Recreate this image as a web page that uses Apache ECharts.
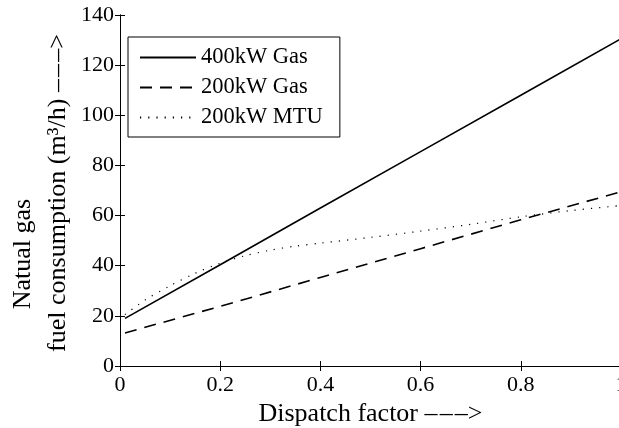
<!DOCTYPE html>
<html>
<head>
<meta charset="utf-8">
<script src="https://cdn.jsdelivr.net/npm/echarts@6/dist/echarts.min.js"></script>
<style>
  html, body { margin: 0; padding: 0; background: #fff; }
  #chart { width: 619px; height: 428px; }
</style>
</head>
<body>
<div id="chart"></div>
<script>
// values
const seriesNames = ['400kW Gas', '200kW Gas', '200kW MTU']
const xGas400 = [0.01, 0.2, 0.4, 0.6, 0.8, 1.0]
const yGas400 = [19, 40.4, 63, 85.5, 108, 130.5]
const xGas200 = [0.01, 0.2, 0.4, 0.6, 0.8, 1.0]
const yGas200 = [13.2, 23.8, 35.3, 46.8, 58.3, 69.5]
const xMtu200 = [0.01, 0.05, 0.1, 0.15, 0.2, 0.25, 0.3, 0.35, 0.4, 0.5, 0.6, 0.7, 0.8, 0.9, 1.0]
const yMtu200 = [20.5, 26.3, 32, 37, 41, 44, 46.2, 47.8, 49, 51.3, 53.8, 56.5, 59.5, 62, 64]
const xTicks = [0, 0.2, 0.4, 0.6, 0.8, 1]
const yTicks = [0, 20, 40, 60, 80, 100, 120, 140]
const xTitle = 'Dispatch factor –\u200a–\u200a–>'
const yTitle = ['Natual gas', 'fuel consumption (m³/h) –\u200a–\u200a–>']

const font = 'Liberation Serif'
const pairs = (xs, ys) => xs.map((x, i) => [x, ys[i]])

let myChart = echarts.init(document.getElementById('chart'), null, { renderer: 'canvas' })

const axisBase = {
  type: 'value',
  axisLine: { show: true, lineStyle: { color: '#000', width: 1 } },
  axisTick: { show: true, inside: true, length: 5, lineStyle: { color: '#000' } },
  splitLine: { show: false }
}

var option = {
  backgroundColor: '#fff',
  animation: false,
  color: ['#000', '#000', '#000'],
  grid: { left: 120, top: 15, right: -2, bottom: 62, outerBoundsMode: 'none' },
  legend: {
    data: seriesNames,
    orient: 'vertical',
    left: 128,
    top: 37,
    padding: [9, 17, 8, 11],
    itemWidth: 56,
    itemHeight: 14,
    itemGap: 7,
    borderColor: '#000',
    borderWidth: 1,
    backgroundColor: '#fff',
    itemStyle: { color: 'transparent', borderColor: 'transparent', borderWidth: 0 },
    textStyle: { fontFamily: font, fontSize: 22.5, color: '#000' }
  },
  // two-line y title, lines placed separately as in the picture
  graphic: [{
    type: 'text',
    x: 23, y: 254, rotation: Math.PI / 2,
    style: { text: yTitle[0], font: '26px "Liberation Serif"', fill: '#000', align: 'center', verticalAlign: 'middle' }
  }, {
    type: 'text',
    x: 58, y: 193, rotation: Math.PI / 2,
    style: { text: yTitle[1], font: '26px "Liberation Serif"', fill: '#000', align: 'center', verticalAlign: 'middle' }
  }],
  xAxis: [
    Object.assign({}, axisBase, {
      position: 'bottom',
      min: 0, max: 1, interval: 0.2,
      axisLabel: {
        margin: 8, color: '#000', fontFamily: font, fontSize: 22,
        formatter: v => xTicks.includes(+v.toFixed(1)) ? String(+v.toFixed(1)) : ''
      },
      name: xTitle,
      nameLocation: 'middle',
      nameGap: 29,
      nameTextStyle: { fontFamily: font, fontSize: 26, color: '#000' }
    }),
    Object.assign({}, axisBase, {
      position: 'top',
      min: 0, max: 1, interval: 0.2,
      axisLabel: { show: false }
    })
  ],
  yAxis: [
    Object.assign({}, axisBase, {
      position: 'left',
      min: 0, max: 140, interval: 20,
      axisLabel: {
        margin: 6, color: '#000', fontFamily: font, fontSize: 22,
        formatter: v => yTicks.includes(v) ? String(v) : ''
      }
    }),
    Object.assign({}, axisBase, {
      position: 'right',
      min: 0, max: 140, interval: 20,
      axisLabel: { show: false }
    })
  ],
  series: [{
    name: seriesNames[0],
    type: 'line',
    showSymbol: false,
    symbol: 'none',
    lineStyle: { color: '#000', width: 1.6, type: 'solid' },
    data: pairs(xGas400, yGas400)
  }, {
    name: seriesNames[1],
    type: 'line',
    showSymbol: false,
    symbol: 'none',
    lineStyle: { color: '#000', width: 1.6, type: [12, 8] },
    data: pairs(xGas200, yGas200)
  }, {
    name: seriesNames[2],
    type: 'line',
    showSymbol: false,
    symbol: 'none',
    smooth: 0.3,
    lineStyle: { color: '#000', width: 1.2, type: [1.2, 7] },
    data: pairs(xMtu200, yMtu200)
  }]
}
myChart.setOption(option)
</script>
</body>
</html>
